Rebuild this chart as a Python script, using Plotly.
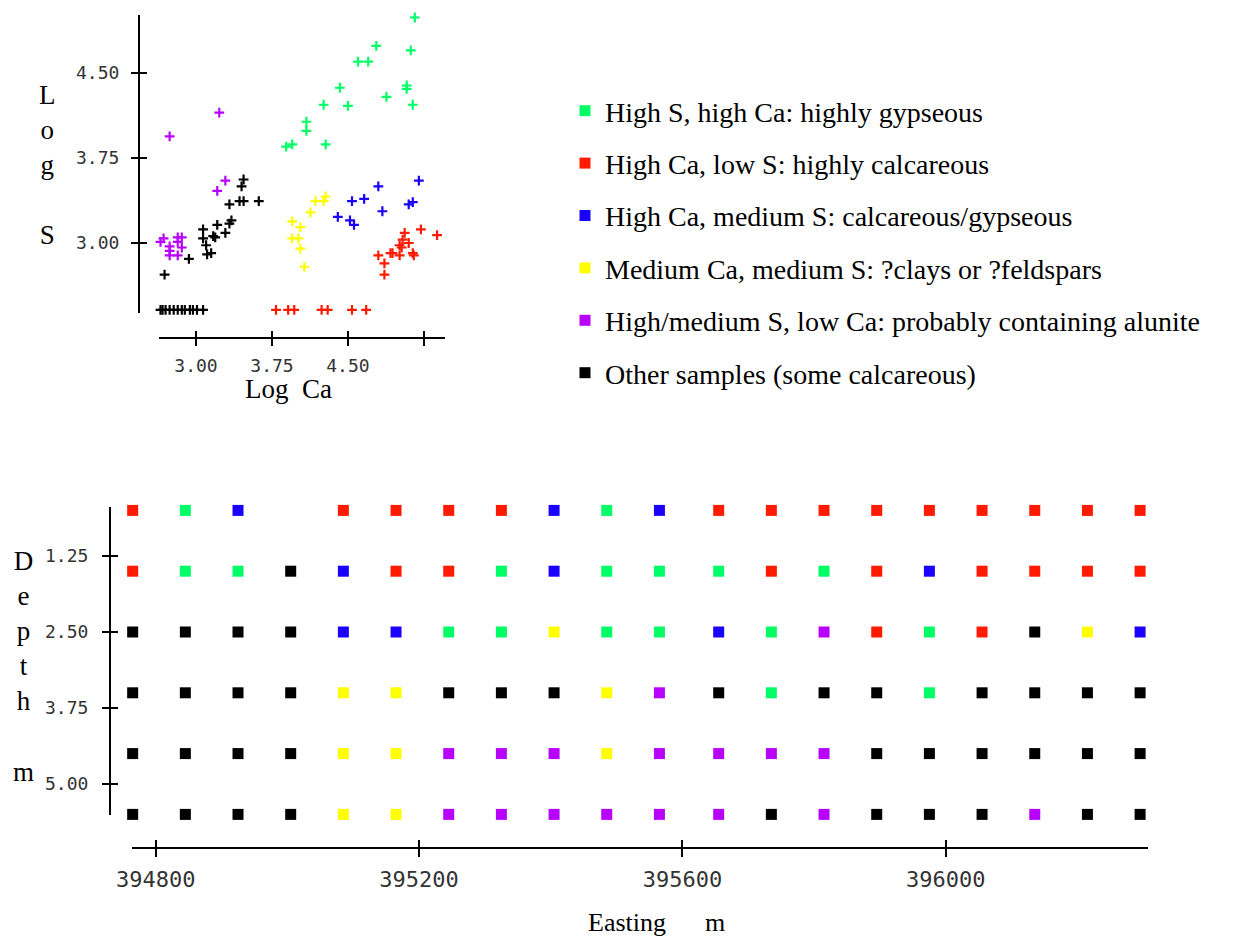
import plotly.graph_objects as go

W, H = 1236, 940

# ---------------- DATA ----------------
class_names = [
    "High S, high Ca: highly gypseous",
    "High Ca, low S: highly calcareous",
    "High Ca, medium S: calcareous/gypseous",
    "Medium Ca, medium S: ?clays or ?feldspars",
    "High/medium S, low Ca: probably containing alunite",
    "Other samples (some calcareous)",
]
class_codes = ["G", "R", "B", "Y", "P", "K"]
class_colors = ["#00ff66", "#ff1a00", "#1a00ff", "#ffff00", "#b800ff", "#000000"]

# Scatter: Log Ca vs Log S by class
gyp_log_ca = [5.16, 4.78, 5.12, 4.60, 4.70, 4.42, 5.08, 5.08, 4.88, 4.26, 4.50, 5.14, 4.09, 4.09, 3.89, 3.95, 4.28]
gyp_log_s = [4.99, 4.74, 4.70, 4.60, 4.60, 4.37, 4.39, 4.36, 4.29, 4.22, 4.21, 4.22, 4.07, 3.99, 3.85, 3.87, 3.87]

calc_log_ca = [4.80, 4.86, 4.86, 4.92, 4.94, 5.01, 5.01, 5.03, 5.04, 5.06, 5.10, 5.14, 5.15, 5.22, 5.38,
               3.79, 3.91, 3.97, 4.24, 4.30, 4.54, 4.68]
calc_log_s = [2.89, 2.82, 2.72, 2.91, 2.91, 2.98, 2.89, 2.96, 3.03, 3.09, 3.00, 2.91, 2.89, 3.12, 3.07,
              2.41, 2.41, 2.41, 2.41, 2.41, 2.41, 2.41]

calcgyp_log_ca = [4.40, 4.52, 4.56, 4.54, 4.66, 4.80, 4.84, 5.10, 5.14, 5.20]
calcgyp_log_s = [3.23, 3.20, 3.16, 3.37, 3.39, 3.50, 3.28, 3.34, 3.36, 3.55]

clay_log_ca = [3.95, 4.03, 3.95, 4.01, 4.03, 4.07, 4.13, 4.18, 4.26, 4.28]
clay_log_s = [3.19, 3.14, 3.04, 3.04, 2.95, 2.79, 3.27, 3.37, 3.37, 3.41]

alun_log_ca = [3.23, 2.74, 2.63, 2.68, 2.63, 2.65, 2.74, 2.74, 2.74, 2.82, 2.86, 2.82, 2.86, 2.82, 3.21, 3.29]
alun_log_s = [4.15, 3.94, 3.28, 3.04, 2.99, 3.01, 2.97, 2.93, 2.89, 3.05, 3.05, 3.01, 2.96, 2.89, 3.46, 3.55]

other_log_ca = [2.69, 2.93, 3.07, 3.07, 3.10, 3.11, 3.15, 3.19, 3.17, 3.21, 3.29, 3.33, 3.35, 3.33, 3.43,
                3.47, 3.45, 3.47, 3.62,
                2.65, 2.67, 2.70, 2.74, 2.78, 2.82, 2.86, 2.89, 2.94, 2.97, 3.01, 3.07]
other_log_s = [2.72, 2.86, 3.12, 3.04, 2.98, 2.90, 2.91, 3.05, 3.06, 3.16, 3.09, 3.17, 3.20, 3.34, 3.37,
               3.37, 3.50, 3.56, 3.37,
               2.41, 2.41, 2.41, 2.41, 2.41, 2.41, 2.41, 2.41, 2.41, 2.41, 2.41, 2.41]

scatter_ca = [gyp_log_ca, calc_log_ca, calcgyp_log_ca, clay_log_ca, alun_log_ca, other_log_ca]
scatter_s = [gyp_log_s, calc_log_s, calcgyp_log_s, clay_log_s, alun_log_s, other_log_s]

# Section: Easting x Depth class grid
eastings = [394765, 394845, 394925, 395005, 395085, 395165, 395245, 395325, 395405, 395485, 395565,
            395655, 395735, 395815, 395895, 395975, 396055, 396135, 396215, 396295]
depths = [0.5, 1.5, 2.5, 3.5, 4.5, 5.5]
row_d05 = "R G B - R R R R B G B R R R R R R R R R".split()
row_d15 = "R G G K B R R G B G G G R G R B R R R R".split()
row_d25 = "K K K K B B G G Y G G B G P R G R K Y B".split()
row_d35 = "K K K K Y Y K K K Y P K G K K G K K K K".split()
row_d45 = "K K K K Y Y P P P Y P P P P K K K K K K".split()
row_d55 = "K K K K Y Y P P P P P P K P K K K P K K".split()
grid_rows = [row_d05, row_d15, row_d25, row_d35, row_d45, row_d55]

top_x_ticks = [3.0, 3.75, 4.5, 5.25]
top_x_ticktext = ["3.00", "3.75", "4.50", ""]
top_y_ticks = [3.0, 3.75, 4.5]
top_y_ticktext = ["3.00", "3.75", "4.50"]
bot_x_ticks = [394800, 395200, 395600, 396000]
bot_y_ticks = [1.25, 2.5, 3.75, 5.0]
bot_y_ticktext = ["1.25", "2.50", "3.75", "5.00"]

# ---------------- LAYOUT HELPERS ----------------
def pxx(p):
    return p / W

def pxy(p):
    return 1 - p / H

SERIF = "Liberation Serif, Times New Roman, serif"
MONO = "DejaVu Sans Mono, monospace"

top_x_dom = [pxx(159), pxx(445)]
top_y_dom = [pxy(313), pxy(15)]
top_x_rng = [2.635, 5.458]
top_y_rng = [2.382, 5.012]
bot_x_dom = [pxx(132), pxx(1148)]
bot_y_dom = [pxy(815), pxy(507)]
bot_x_rng = [394764, 396307]
bot_y_rng = [5.51, 0.444]

fig = go.Figure()

# top scatter
for name, col, xs, ys in zip(class_names, class_colors, scatter_ca, scatter_s):
    fig.add_trace(go.Scatter(
        x=xs, y=ys, mode="markers", xaxis="x", yaxis="y", name=name,
        showlegend=False, cliponaxis=False,
        marker=dict(symbol="cross-thin", size=7, color=col, line=dict(color=col, width=2.2)),
    ))

# bottom grid
for name, code, col in zip(class_names, class_codes, class_colors):
    gx, gy = [], []
    for d, row in zip(depths, grid_rows):
        for e, c in zip(eastings, row):
            if c == code:
                gx.append(e)
                gy.append(d)
    fig.add_trace(go.Scatter(
        x=gx, y=gy, mode="markers", xaxis="x2", yaxis="y2", name=name,
        legendgroup=code, showlegend=True, cliponaxis=False,
        marker=dict(symbol="square", size=11, color=col, line=dict(width=0)),
    ))

# invisible helper traces so the overlay axes (inner half of the crossing ticks) get drawn
for xa, ya, xr, yr in [("x", "y3", top_x_rng, top_y_rng), ("x3", "y", top_x_rng, top_y_rng),
                       ("x2", "y4", bot_x_rng, bot_y_rng), ("x4", "y2", bot_x_rng, bot_y_rng)]:
    fig.add_trace(go.Scatter(x=[xr[0]], y=[yr[0]], xaxis=xa, yaxis=ya, mode="markers",
                             marker=dict(opacity=0, size=1), showlegend=False, hoverinfo="skip"))

base_ax = dict(showgrid=False, zeroline=False, showline=True, linecolor="black", linewidth=2,
               ticks="outside", tickcolor="black", tickwidth=2, anchor="free", automargin=False,
               tickfont=dict(family=MONO, size=18, color="#333"))
ovl_ax = dict(anchor="free", showline=False, showgrid=False, zeroline=False, ticks="inside",
              tickwidth=2, tickcolor="black", showticklabels=False, automargin=False)

fig.update_layout(
    xaxis=dict(base_ax, domain=top_x_dom, range=top_x_rng, position=pxy(338), ticklen=7,
               tickvals=top_x_ticks, ticktext=top_x_ticktext, ticklabelstandoff=4),
    yaxis=dict(base_ax, domain=top_y_dom, range=top_y_rng, position=pxx(139), ticklen=7,
               tickvals=top_y_ticks, ticktext=top_y_ticktext, ticklabelstandoff=8),
    xaxis3=dict(ovl_ax, overlaying="x", range=top_x_rng, position=pxy(338), ticklen=7,
                tickvals=top_x_ticks),
    yaxis3=dict(ovl_ax, overlaying="y", range=top_y_rng, position=pxx(139), ticklen=7,
                tickvals=top_y_ticks),
    xaxis2=dict(base_ax, domain=bot_x_dom, range=bot_x_rng, position=pxy(848), ticklen=8,
                tickvals=bot_x_ticks, ticktext=[str(v) for v in bot_x_ticks],
                tickfont=dict(family=MONO, size=22, color="#333"), ticklabelstandoff=4),
    yaxis2=dict(base_ax, domain=bot_y_dom, range=bot_y_rng, position=pxx(110), ticklen=7,
                tickvals=bot_y_ticks, ticktext=bot_y_ticktext, ticklabelstandoff=10),
    xaxis4=dict(ovl_ax, overlaying="x2", range=bot_x_rng, position=pxy(848), ticklen=8,
                tickvals=bot_x_ticks),
    yaxis4=dict(ovl_ax, overlaying="y2", range=bot_y_rng, position=pxx(110), ticklen=7,
                tickvals=bot_y_ticks),
    width=W, height=H, autosize=False,
    margin=dict(l=0, r=0, t=0, b=0, pad=0),
    paper_bgcolor="white", plot_bgcolor="white",
    showlegend=True,
    legend=dict(x=pxx(565), y=pxy(86), xanchor="left", yanchor="top",
                font=dict(family=SERIF, size=28, color="black"),
                traceorder="grouped", tracegroupgap=13,
                bgcolor="rgba(0,0,0,0)", borderwidth=0, itemclick=False, itemdoubleclick=False),
)

ann_font = dict(family=SERIF, size=27, color="black")
fig.add_annotation(text="L<br>o<br>g<br><br>S", x=pxx(48), y=pxy(165), xref="paper", yref="paper",
                   showarrow=False, font=ann_font, xanchor="center", yanchor="middle")
fig.add_annotation(text="Log\u00a0\u00a0Ca", x=pxx(288), y=pxy(389), xref="paper", yref="paper",
                   showarrow=False, font=ann_font, xanchor="center", yanchor="middle")
fig.add_annotation(text="D<br>e<br>p<br>t<br>h<br><br>m", x=pxx(23), y=pxy(666), xref="paper", yref="paper",
                   showarrow=False, font=ann_font, xanchor="center", yanchor="middle")
fig.add_annotation(text="Easting" + "\u00a0" * 6 + "m", x=pxx(656), y=pxy(922), xref="paper", yref="paper",
                   showarrow=False, font=dict(family=SERIF, size=26, color="black"),
                   xanchor="center", yanchor="middle")

fig.write_html("out.html")
